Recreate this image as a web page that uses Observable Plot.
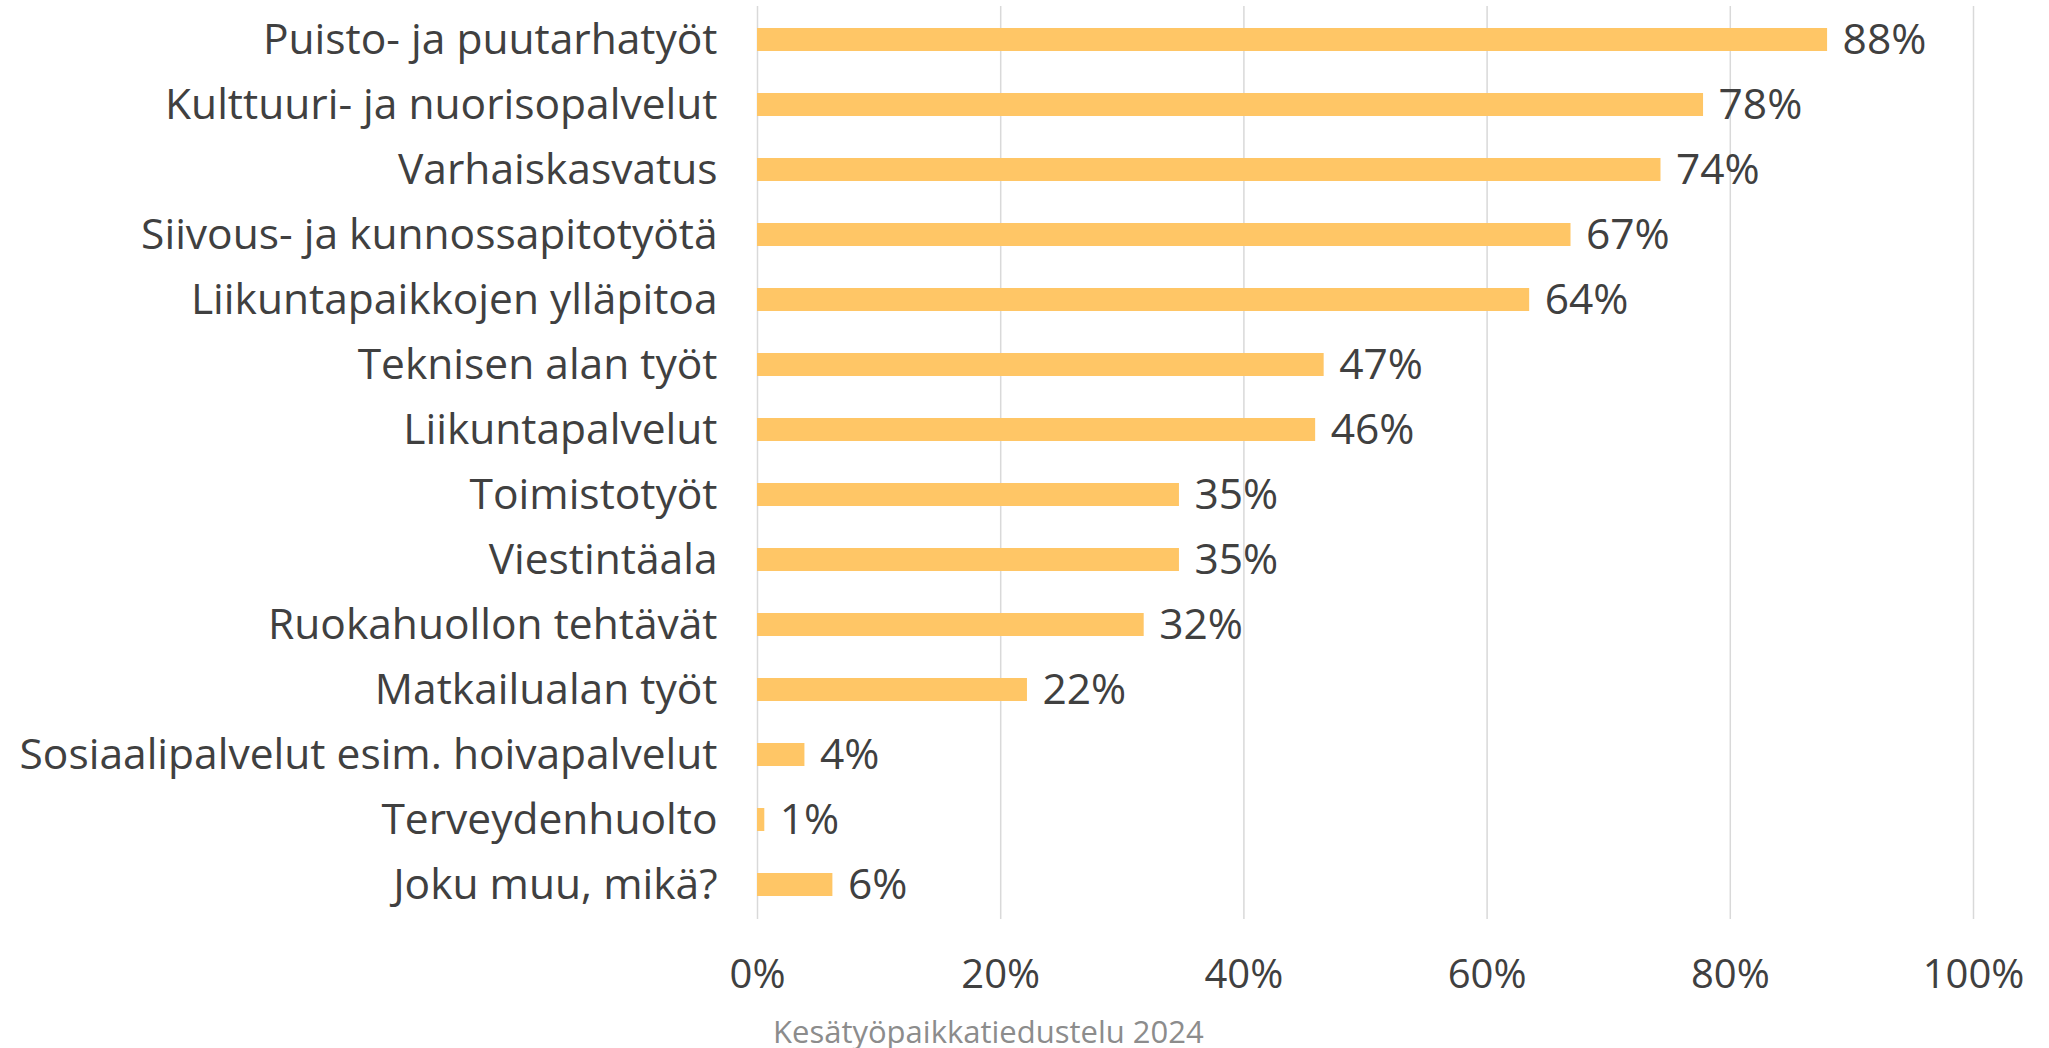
<!DOCTYPE html>
<html>
<head>
<meta charset="utf-8">
<script src="https://cdn.jsdelivr.net/npm/d3@7"></script>
<script src="https://cdn.jsdelivr.net/npm/@observablehq/plot@0.6"></script>
<style>
  html, body { margin: 0; padding: 0; background: #fff; }
  #chart svg { display: block; }
  #caption { font-family: "Open Sans", sans-serif; font-size: 31px; color: #8c8c8c; padding-left: 773px; line-height: 42px; height: 38px; }
</style>
</head>
<body>
<div id="chart"></div>
<div id="caption">Kesätyöpaikkatiedustelu 2024</div>
<script>
const categories = [
  "Puisto- ja puutarhatyöt",
  "Kulttuuri- ja nuorisopalvelut",
  "Varhaiskasvatus",
  "Siivous- ja kunnossapitotyötä",
  "Liikuntapaikkojen ylläpitoa",
  "Teknisen alan työt",
  "Liikuntapalvelut",
  "Toimistotyöt",
  "Viestintäala",
  "Ruokahuollon tehtävät",
  "Matkailualan työt",
  "Sosiaalipalvelut esim. hoivapalvelut",
  "Terveydenhuolto",
  "Joku muu, mikä?"
];
const values = [88.0, 77.8, 74.3, 66.9, 63.5, 46.6, 45.9, 34.7, 34.7, 31.8, 22.2, 3.9, 0.6, 6.2];
const xTicks = [0, 20, 40, 60, 80, 100];

const data = categories.map((c, i) => ({category: c, value: values[i]}));

const chart = Plot.plot({
  width: 2049,
  height: 1010,
  marginLeft: 757,
  marginRight: 76,
  marginTop: 6,
  marginBottom: 91,
  style: {fontFamily: "'Open Sans', sans-serif", color: "#404040", background: "#fff"},
  x: {domain: [0, 100], ticks: xTicks, tickFormat: d => d + "%", label: null},
  y: {domain: categories, paddingInner: 0.645, paddingOuter: 0.3225, label: null},
  marks: [
    Plot.gridX(xTicks, {stroke: "#d9d9d9", strokeOpacity: 1, strokeWidth: 1.5}),
    Plot.barX(data, {y: "category", x: "value", fill: "#FFC666"}),
    Plot.text(data, {y: "category", x: "value", text: d => Math.round(d.value) + "%", textAnchor: "start", dx: 15, fontSize: 42.5, fill: "#404040"}),
    Plot.axisX({ticks: xTicks, tickFormat: d => d + "%", tickSize: 0, tickPadding: 40, fontSize: 40, label: null}),
    Plot.axisY({tickSize: 0, tickPadding: 40, fontSize: 42.5, label: null})
  ]
});
document.getElementById("chart").appendChild(chart);
</script>
</body>
</html>
